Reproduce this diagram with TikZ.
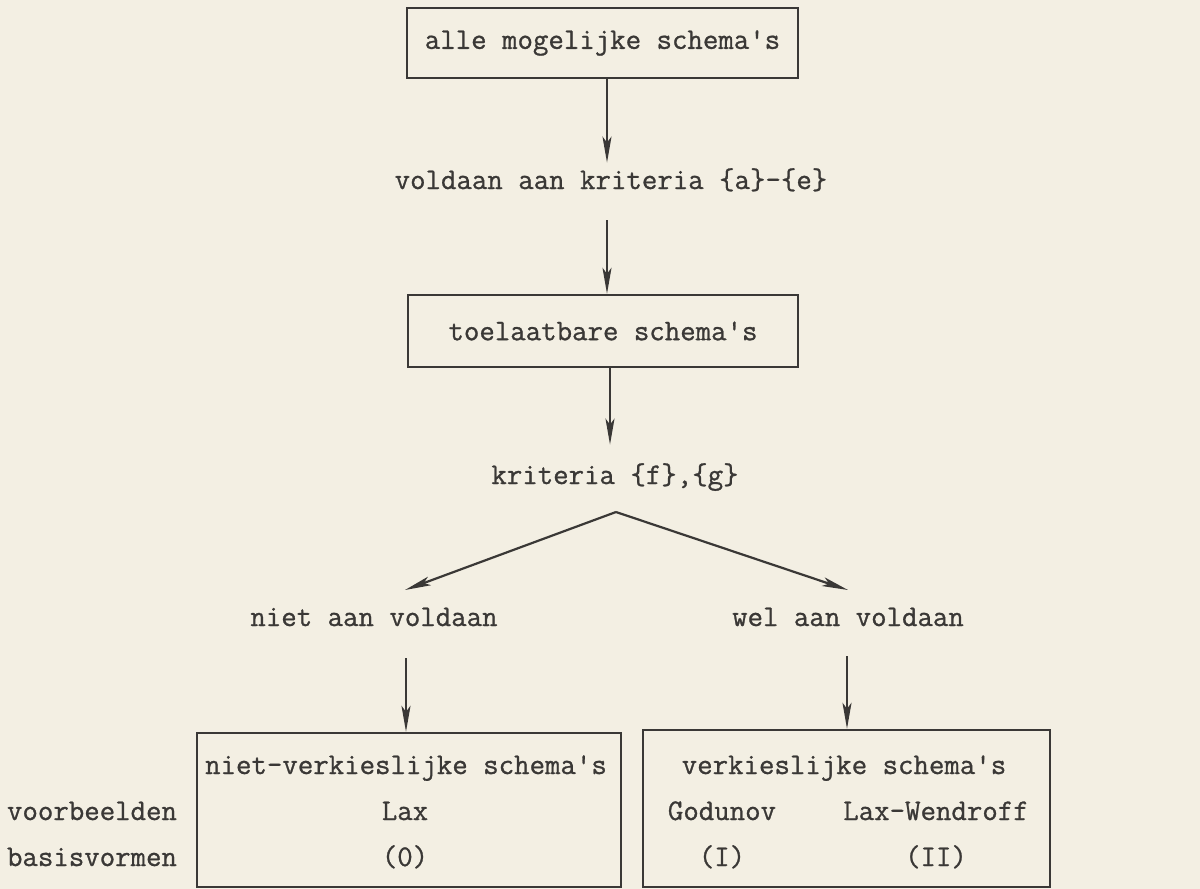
\documentclass[tikz,border=0pt]{standalone}
\usepackage{fontspec}
\newfontfamily\typew[FakeBold=0.9]{Latin Modern Mono}
\usetikzlibrary{arrows.meta}
\definecolor{paper}{HTML}{F3EFE3}
\definecolor{ink}{HTML}{3A3836}
\begin{document}
\begin{tikzpicture}[x=0.5pt,y=-0.5pt,
  every node/.style={font=\typew\fontsize{15pt}{17pt}\selectfont, text=ink},
  txt/.style={inner sep=0pt, text height=10pt, text depth=3pt},
  boxnode/.style={draw=ink, line width=1.2pt, inner sep=0pt},
  arr/.style={draw=ink, line width=1.1pt, -{Stealth[length=13pt,width=4.5pt,inset=3pt]}},
  ]
\fill[paper] (0,0) rectangle (1200,889);
\useasboundingbox (0,0) rectangle (1200,889);

% helper verticals
\coordinate (ax1) at (607,0);
\coordinate (ax3) at (610,0);
\coordinate (ax4) at (406,0);
\coordinate (ax5) at (847,0);

% nodes
\node[boxnode, minimum width=195.5pt, minimum height=35pt] (b1) at (602.5,43) {alle mogelijke schema's};
\node[txt] (t1) at (611,182) {voldaan aan kriteria \{a\}-\{e\}};
\node[boxnode, minimum width=195pt, minimum height=36pt] (b2) at (603,331) {toelaatbare schema's};
\node[txt] (t2) at (615,477) {kriteria \{f\},\{g\}};
\coordinate (apex) at (616,512);
\coordinate (lend) at (405,590);
\coordinate (rend) at (848,590);
\node[txt] (n1) at (374,619) {niet aan voldaan};
\node[txt] (n2) at (848,619) {wel aan voldaan};

\node[boxnode, minimum width=212pt, minimum height=77pt] (b3) at (409,810) {};
\node[boxnode, minimum width=203.5pt, minimum height=78.5pt] (b4) at (846.5,808.5) {};

\node[txt] (l1) at (92,813) {voorbeelden};
\node[txt] (l2) at (92,859) {basisvormen};

\node[txt] (b3t) at (406,767) {niet-verkieslijke schema's};
\node[txt] (b3a) at (405,813) {Lax};
\node[txt] (b3b) at (405,859) {(0)};

\node[txt] (b4t) at (844,767) {verkieslijke schema's};
\node[txt] (b4a) at (722,813) {Godunov};
\node[txt] (b4b) at (936,813) {Lax-Wendroff};
\node[txt] (b4c) at (722,859) {(I)};
\node[txt] (b4d) at (936,859) {(II)};

% connectors
\draw[arr, shorten >=3pt] (b1.south -| ax1) -- (t1.north -| ax1);
\draw[arr, shorten <=12.5pt] (t1.south -| ax1) -- (b2.north -| ax1);
\draw[arr, shorten >=9.5pt] (b2.south -| ax3) -- (t2.north -| ax3);
\draw[arr] (apex) -- (lend);
\draw[arr] (apex) -- (rend);
\draw[arr, shorten <=13pt] (n1.south -| ax4) -- (b3.north -| ax4);
\draw[arr, shorten <=12pt] (n2.south -| ax5) -- (b4.north -| ax5);
\end{tikzpicture}
\end{document}
